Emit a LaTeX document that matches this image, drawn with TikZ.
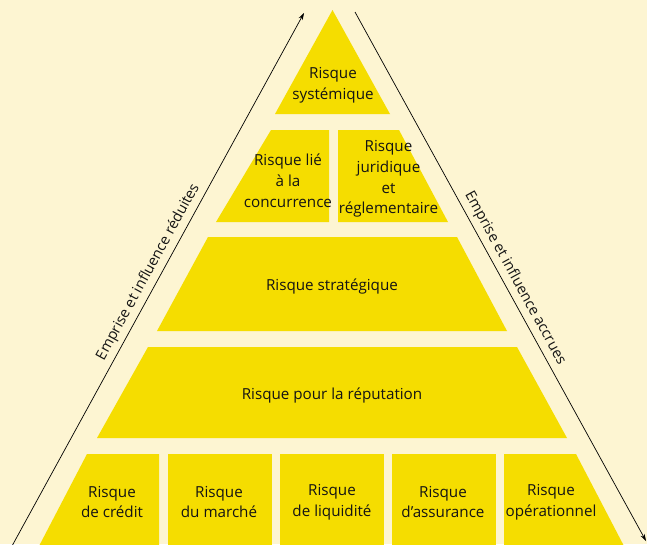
\documentclass[tikz,border=0pt]{standalone}
\usepackage{fontspec}
\setmainfont{Open Sans}
\usetikzlibrary{arrows.meta}
\definecolor{bgcream}{RGB}{253,245,210}
\definecolor{tieryellow}{RGB}{245,221,0}
\definecolor{txtdark}{RGB}{20,20,20}
\tikzset{
  tier/.style={fill=tieryellow},
  lbl/.style={align=center,text=txtdark,font=\fontsize{15.2}{20.8}\selectfont,inner sep=0pt},
  sidelbl/.style={text=txtdark,font=\fontsize{14.6}{16}\selectfont,inner sep=0pt,sloped},
  influ/.style={draw=black,line width=0.7pt,-{Stealth[length=7pt,width=4.5pt]}}
}
\begin{document}
\begin{tikzpicture}[x=1pt,y=-1pt]
\useasboundingbox (0,0) rectangle (647,544);
\fill[bgcream] (0,0) rectangle (647,544);
\begin{scope}
\clip (0,0) rectangle (647,544);
% tiers
\fill[tier] (332.5,10) -- (390,114) -- (275,114) -- cycle;
\fill[tier] (271,130) -- (329,130) -- (329,222) -- (216,222) -- cycle;
\fill[tier] (338,130) -- (399,130) -- (448,222) -- (338,222) -- cycle;
\fill[tier] (208,237) -- (457,237) -- (507,331) -- (157,331) -- cycle;
\fill[tier] (148,347) -- (517,347) -- (567,438) -- (97,438) -- cycle;
\fill[tier] (87,454) -- (159,454) -- (159,548) -- (38,548) -- cycle;
\fill[tier] (168,454) rectangle (272,548);
\fill[tier] (280,454) rectangle (384,548);
\fill[tier] (392,454) rectangle (496,548);
\fill[tier] (504,454) -- (576,454) -- (625,548) -- (504,548) -- cycle;
% arrows
\coordinate (lstart) at (12,546);
\coordinate (lend) at (304,13);
\coordinate (rstart) at (355,12);
\coordinate (rend) at (646,541);
\draw[influ] (lstart) -- (lend);
\draw[influ] (rstart) -- (rend);
\path (lstart) -- (lend) node[sidelbl,pos=0.503,above=4.5pt] (lbl-left) {Emprise et influence réduites};
\path (rstart) -- (rend) node[sidelbl,pos=0.514,above=4.5pt] (lbl-right) {Emprise et influence accrues};
\end{scope}
% labels
\node[lbl] (sys) at (333,85) {Risque\\systémique};
\node[lbl] (conc) at (288,181) {Risque lié\\à la\\concurrence};
\node[lbl] (jur) at (388.5,179) {Risque\\juridique\\et\\réglementaire};
\node[lbl] (strat) at (332,286) {Risque stratégique};
\node[lbl] (rep) at (332,395) {Risque pour la réputation};
\node[lbl] (cred) at (112,502) {Risque\\de crédit};
\node[lbl] (marche) at (219,502) {Risque\\du marché};
\node[lbl] (liq) at (332,502) {Risque\\de liquidité};
\node[lbl] (ass) at (443,502) {Risque\\d’assurance};
\node[lbl] (oper) at (551,502) {Risque\\opérationnel};
\end{tikzpicture}
\end{document}
